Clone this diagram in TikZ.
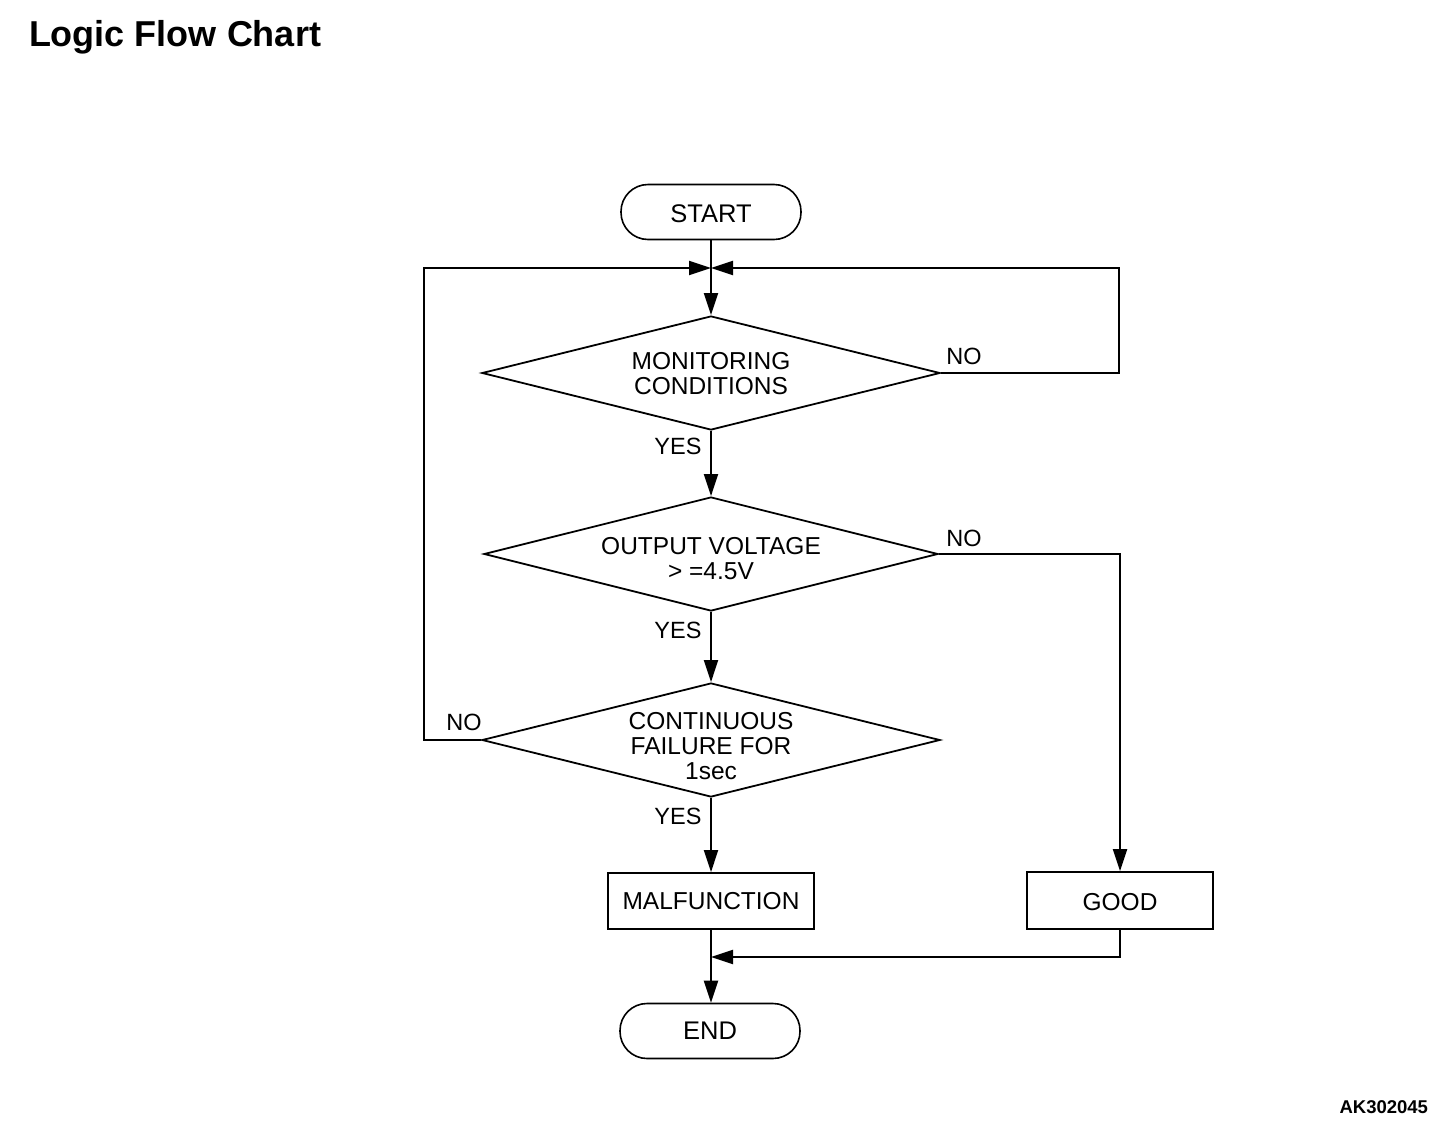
\documentclass[tikz,border=0pt]{standalone}
\usepackage{fontspec}
\setmainfont{Liberation Sans}
\usetikzlibrary{shapes.geometric,arrows.meta}
\begin{document}
\begin{tikzpicture}[x=1pt,y=-1pt,
  line width=2pt,
  txt/.style={font=\fontsize{24.5}{25}\selectfont,align=center,inner sep=0pt},
  lbl/.style={font=\fontsize{23.5}{24}\selectfont,inner sep=0pt},
  term/.style={draw,line width=1.6pt,rectangle,rounded corners=27pt,minimum width=180pt,minimum height=55pt,inner sep=0pt,font=\fontsize{25.5}{26}\selectfont},
  boxnode/.style={draw,line width=1.8pt,rectangle,inner sep=0pt,font=\fontsize{24.5}{25}\selectfont},
  dia/.style={draw,line width=1.8pt,diamond,aspect=4,minimum width=458pt,minimum height=114pt,inner sep=0pt},
  arr/.style={-{Triangle[length=22pt,width=14pt]}}
]
\useasboundingbox (0,0) rectangle (1456,1138);
\fill[white] (0,0) rectangle (1456,1138);

\node[anchor=base west,inner sep=0pt,font=\fontsize{36}{37}\selectfont\bfseries] (title) at (28,46) {Logic Flow Chart};
\node[anchor=base east,inner sep=0pt,font=\fontsize{18.5}{19}\selectfont\bfseries] (code) at (1429,1113) {AK302045};

\node[term] (start) at (711,212) {};
\node[txt,font=\fontsize{25.5}{26}\selectfont] (startt) at (711,214) {START};
\coordinate (j1) at (711,268);

\node[dia] (d1) at (711,373) {};
\node[txt] (d1t) at (711,374) {MONITORING\\CONDITIONS};
\node[dia,minimum width=454pt] (d2) at (711,554) {};
\node[txt] (d2t) at (711,559) {OUTPUT VOLTAGE\\> =4.5V};
\node[dia] (d3) at (711,740) {};
\node[txt] (d3t) at (711,746) {CONTINUOUS\\FAILURE FOR\\1sec};

\node[boxnode,minimum width=206pt,minimum height=56pt] (mal) at (711,901) {MALFUNCTION};
\node[boxnode,minimum width=186pt,minimum height=57pt] (good) at (1120,900.5) {};
\node[txt] (goodt) at (1120,902) {GOOD};
\node[term] (end) at (710,1031) {END};
\coordinate (j2) at (711,957);

\node[lbl] (no1) at (964,356) {NO};
\node[lbl] (no2) at (964,538) {NO};
\node[lbl] (no3) at (464,722) {NO};
\node[lbl] (yes1) at (678,446) {YES};
\node[lbl] (yes2) at (678,630) {YES};
\node[lbl] (yes3) at (678,816) {YES};

\draw[arr] (start.south) -- (d1.north);
\draw[arr] (d1.east) -- ++(178,0) |- (j1);
\draw[arr] (d3.west) -- ++(-57,0) |- (j1);
\draw[arr] (d1.south) -- (d2.north);
\draw[arr] (d2.east) -| (good.north);
\draw[arr] (d2.south) -- (d3.north);
\draw[arr] (d3.south) -- (mal.north);
\draw[arr] (mal.south) -- (mal.south |- end.north);
\draw[arr] (good.south) |- (j2);
\end{tikzpicture}
\end{document}
